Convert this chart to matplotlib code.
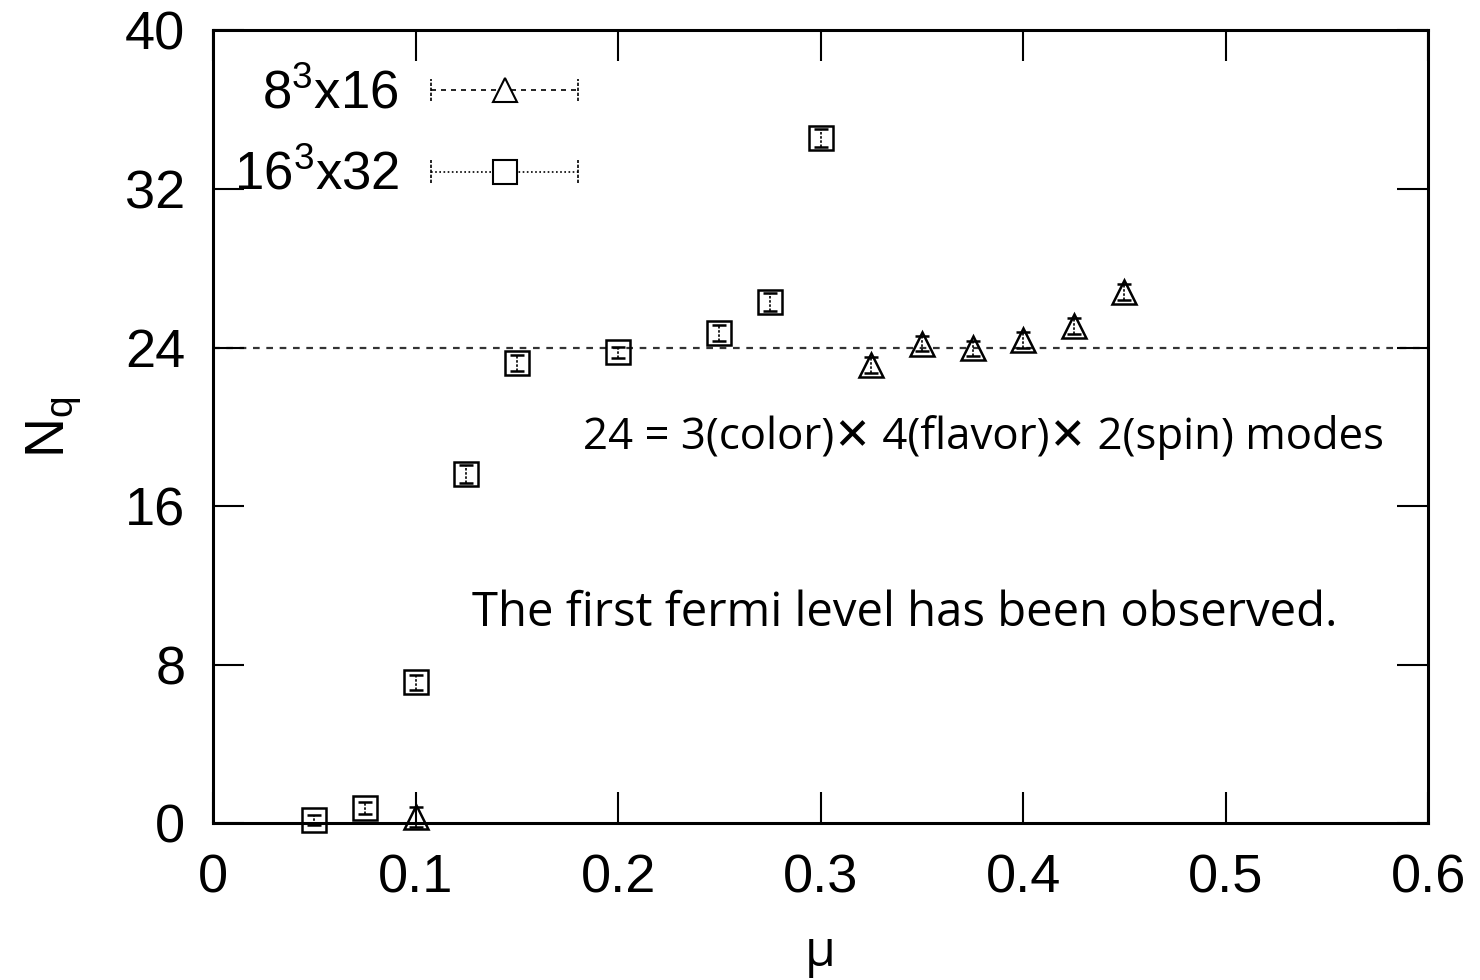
import matplotlib.pyplot as plt

# quark number vs chemical potential, two lattice volumes
mu_small = [0.1, 0.325, 0.35, 0.375, 0.4, 0.425, 0.45]
nq_small = [0.3, 23.1, 24.2, 23.95, 24.4, 25.1, 26.8]
err_small = [0.5, 0.4, 0.4, 0.4, 0.4, 0.4, 0.4]

mu_large = [0.05, 0.075, 0.1, 0.125, 0.15, 0.2, 0.25, 0.275, 0.3]
nq_large = [0.15, 0.75, 7.1, 17.6, 23.2, 23.75, 24.75, 26.3, 34.55]
err_large = [0.25, 0.3, 0.4, 0.45, 0.4, 0.3, 0.4, 0.45, 0.45]

xticks = [0, 0.1, 0.2, 0.3, 0.4, 0.5, 0.6]
yticks = [0, 8, 16, 24, 32, 40]
plateau = 24

plt.rcParams['font.family'] = ['Liberation Sans', 'DejaVu Sans']
plt.rcParams['mathtext.fontset'] = 'custom'
plt.rcParams['mathtext.rm'] = 'Liberation Sans'

fig = plt.figure(figsize=(14.8, 9.8), dpi=100)
ax = fig.add_axes([0.144, 0.160, 0.821, 0.809])

ax.axhline(plateau, color='#333333', lw=1.6, ls=(0, (3, 3)), zorder=1)

for mu, nq, err, mk in [(mu_small, nq_small, err_small, '^'),
                        (mu_large, nq_large, err_large, 's')]:
    eb = ax.errorbar(mu, nq, yerr=err, fmt=mk, ms=17, mfc='none',
                     mec='black', mew=1.8, ecolor='black', elinewidth=1.2,
                     capsize=5, capthick=1.2, ls='none', zorder=3,
                     clip_on=False)
    for col in eb[2]:
        col.set_linestyle((0, (1.5, 1)))

ax.set_xlim(0, 0.6)
ax.set_ylim(0, 40)
ax.set_xticks(xticks)
ax.set_yticks(yticks)
ax.set_xticklabels(['0', '0.1', '0.2', '0.3', '0.4', '0.5', '0.6'])
ax.tick_params(direction='in', length=22, width=1.5, labelsize=39,
               top=True, right=True)
ax.tick_params(axis='x', pad=22)
ax.tick_params(axis='y', pad=20)
for s in ax.spines.values():
    s.set_linewidth(2.2)

ax.set_ylabel(r'N$_\mathregular{q}$', fontsize=40, labelpad=30)
ax.set_xlabel('μ', fontsize=36, family='Open Sans', labelpad=18)

# key drawn by hand: label on the left, sample line with end caps on the right
keys = [(r'8$^\mathregular{3}$x16', '^', (0, (3, 3)), 0.925),
        (r'16$^\mathregular{3}$x32', 's', (0, (1, 1.5)), 0.822)]
for label, mk, style, yk in keys:
    ax.text(0.153, yk - 0.005, label, transform=ax.transAxes, ha='right',
            va='center', fontsize=38)
    ax.plot([0.179, 0.300], [yk, yk], transform=ax.transAxes, color='black',
            lw=1.2, ls=style)
    for xe in (0.179, 0.300):
        ax.plot([xe, xe], [yk - 0.014, yk + 0.014], transform=ax.transAxes,
                color='black', lw=1.2, ls=(0, (2, 1)))
    ax.plot([0.240], [yk], transform=ax.transAxes, marker=mk, ms=17,
            mfc='white', mec='black', mew=1.5)

ax.text(0.964, 0.487, '24 = 3(color)\u2715 4(flavor)\u2715 2(spin) modes',
        transform=ax.transAxes, ha='right', va='center', fontsize=31.5,
        family=['Open Sans', 'DejaVu Sans'])
ax.text(0.925, 0.265, 'The first fermi level has been observed.',
        transform=ax.transAxes, ha='right', va='center', fontsize=34,
        family='Open Sans')

fig.savefig('out.png', dpi=100)
